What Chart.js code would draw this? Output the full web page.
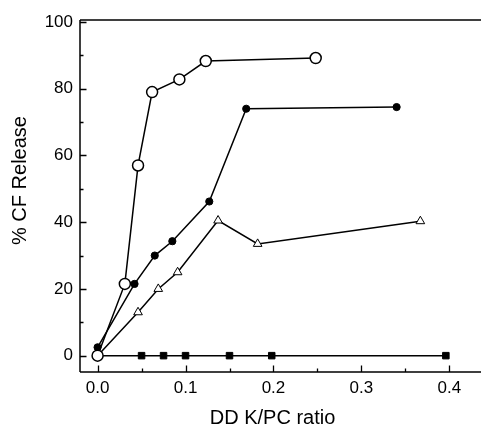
<!DOCTYPE html>
<html>
<head>
<meta charset="utf-8">
<script src="https://cdn.jsdelivr.net/npm/chart.js@4/dist/chart.umd.min.js"></script>
<style>
  html, body { margin: 0; padding: 0; background: #fff; overflow: hidden; }
  #wrap { width: 481px; height: 427px; }
</style>
</head>
<body>
<div id="wrap"><canvas id="c" width="481" height="427"></canvas></div>
<script>
// DD K/PC ratio (x) vs % CF release (y), four liposome series
const openX   = [0, 0.031, 0.046, 0.062, 0.093, 0.123, 0.248];
const openY   = [0, 21.5, 57, 79, 82.8, 88.3, 89.2];

const filledX = [0, 0.042, 0.065, 0.085, 0.127, 0.169, 0.340];
const filledY = [2.5, 21.5, 30, 34.3, 46.2, 74, 74.5];

const triX    = [0, 0.046, 0.069, 0.091, 0.137, 0.182, 0.367];
const triY    = [0, 13, 20, 25, 40.5, 33.5, 40.3];

const sqX     = [0, 0.05, 0.075, 0.1, 0.15, 0.198, 0.396];
const sqY     = [0, 0, 0, 0, 0, 0, 0];

// tick positions (labels on every other tick)
const xTicks = [0, 0.05, 0.1, 0.15, 0.2, 0.25, 0.3, 0.35, 0.4];
const xLabeled = [0, 0.1, 0.2, 0.3, 0.4];
const yTicks = [0, 10, 20, 30, 40, 50, 60, 70, 80, 90, 100];
const yLabeled = [0, 20, 40, 60, 80, 100];

const xTitle = 'DD K/PC ratio';
const yTitle = '% CF Release';

const FONT = "'Liberation Sans', Arial, sans-serif";

function pts(xs, ys) { return xs.map((x, i) => ({ x, y: ys[i] })); }
function isIn(list, v) { return list.some(l => Math.abs(l - v) < 1e-9); }

// frame (open on the right, running to the canvas edge), inward ticks, axis titles
const frame = {
  id: 'frame',
  afterDraw(chart) {
    const { ctx, chartArea: a, scales: { x, y } } = chart;
    ctx.save();
    ctx.strokeStyle = '#000';
    ctx.lineWidth = 1.5;
    ctx.lineCap = 'butt';
    ctx.beginPath();
    ctx.moveTo(a.left, a.top);
    ctx.lineTo(a.left, a.bottom);
    ctx.moveTo(a.left, a.bottom);
    ctx.lineTo(chart.width, a.bottom);
    ctx.moveTo(a.left, a.top);
    ctx.lineTo(chart.width, a.top);
    ctx.stroke();

    ctx.lineWidth = 1.3;
    ctx.beginPath();
    x.ticks.forEach(t => {
      const px = Math.round(x.getPixelForValue(t.value)) + 0.5;
      const len = isIn(xLabeled, t.value) ? 6.5 : 3.5;
      ctx.moveTo(px, a.bottom);
      ctx.lineTo(px, a.bottom - len);
    });
    y.ticks.forEach(t => {
      const py = Math.round(y.getPixelForValue(t.value)) + 0.5;
      const len = isIn(yLabeled, t.value) ? 6.5 : 3.5;
      ctx.moveTo(a.left, py);
      ctx.lineTo(a.left + len, py);
    });
    ctx.stroke();

    ctx.fillStyle = '#000';
    ctx.font = '20px ' + FONT;
    ctx.textAlign = 'center';
    ctx.textBaseline = 'middle';
    ctx.fillText(xTitle, a.left + 192.5, a.bottom + 46);
    ctx.translate(20, a.top + 160.5);
    ctx.rotate(-Math.PI / 2);
    ctx.fillText(yTitle, 0, 0);
    ctx.restore();
  }
};

const line = { borderColor: '#000', borderWidth: 1.5, tension: 0, showLine: true };

new Chart(document.getElementById('c'), {
  type: 'scatter',
  data: {
    datasets: [
      Object.assign({}, line, {
        label: 'squares', data: pts(sqX, sqY),
        pointStyle: 'rect', pointRadius: 4.6, pointBackgroundColor: '#000',
        pointBorderColor: '#000', pointBorderWidth: 1, order: 4
      }),
      Object.assign({}, line, {
        label: 'triangles', data: pts(triX, triY),
        pointStyle: 'triangle', pointRadius: 5, pointBackgroundColor: '#fff',
        pointBorderColor: '#000', pointBorderWidth: 1, order: 3
      }),
      Object.assign({}, line, {
        label: 'filled', data: pts(filledX, filledY),
        pointStyle: 'circle', pointRadius: 3.6, pointBackgroundColor: '#000',
        pointBorderColor: '#000', pointBorderWidth: 1, order: 2
      }),
      Object.assign({}, line, {
        label: 'open', data: pts(openX, openY),
        pointStyle: 'circle', pointRadius: 5.5, pointBackgroundColor: '#fff',
        pointBorderColor: '#000', pointBorderWidth: 1.5, order: 1
      })
    ]
  },
  options: {
    responsive: false,
    animation: false,
    devicePixelRatio: 1,
    layout: { padding: { top: 20, right: 0, bottom: 0, left: 0 } },
    plugins: { legend: { display: false }, tooltip: { enabled: false } },
    elements: { point: { hoverRadius: 5 } },
    scales: {
      x: {
        type: 'linear', min: -0.02, max: 0.428,
        grid: { display: false, drawTicks: false },
        border: { display: false },
        afterBuildTicks: s => { s.ticks = xTicks.map(v => ({ value: v })); },
        afterFit: s => { s.height = 55; s.paddingLeft = 0; s.paddingRight = 0; },
        ticks: {
          color: '#000', padding: 6, maxRotation: 0, autoSkip: false,
          font: { family: FONT, size: 17 },
          callback: v => isIn(xLabeled, v) ? v.toFixed(1) : ''
        }
      },
      y: {
        type: 'linear', min: -4.9, max: 100.6,
        grid: { display: false, drawTicks: false },
        border: { display: false },
        afterBuildTicks: s => { s.ticks = yTicks.map(v => ({ value: v })); },
        afterFit: s => { s.width = 80; },
        ticks: {
          color: '#000', padding: 7, autoSkip: false,
          font: { family: FONT, size: 17 },
          callback: v => isIn(yLabeled, v) ? String(v) : ''
        }
      }
    }
  },
  plugins: [frame]
});
</script>
</body>
</html>
